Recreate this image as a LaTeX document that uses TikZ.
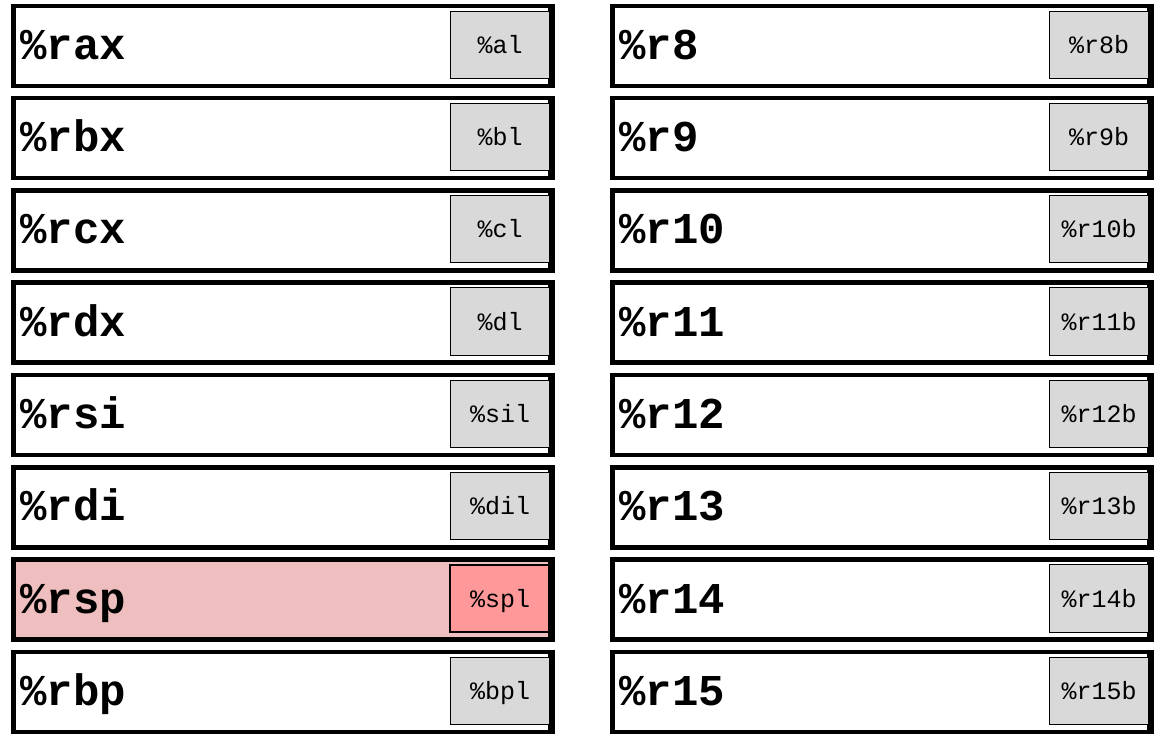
\documentclass[tikz,border=0pt]{standalone}
\usepackage{fontspec}
\setmonofont{Liberation Mono}
\definecolor{regfill}{RGB}{217,217,217}
\definecolor{spouter}{RGB}{239,190,190}
\definecolor{spinner}{RGB}{255,153,153}
\tikzset{
  regbox/.style={draw=black, line width=4.5pt, rectangle, inner sep=0pt, minimum height=80pt, fill=white},
  subbox/.style={draw=black, line width=1pt, rectangle, inner sep=0pt, minimum width=98.5pt, minimum height=67.3pt, fill=regfill},
  bigtxt/.style={anchor=base west, inner sep=0pt, font=\fontsize{44}{44}\selectfont\ttfamily\bfseries},
  smalltxt/.style={anchor=base, inner sep=0pt, font=\fontsize{25}{25}\selectfont\ttfamily}
}
\begin{document}
\begin{tikzpicture}[x=1pt,y=1pt]
\useasboundingbox (0,0) rectangle (1161,-744);
% left column
\foreach \r/\big/\small in {0/rax/al,1/rbx/bl,2/rcx/cl,3/rdx/dl,4/rsi/sil,5/rdi/dil,6/rsp/spl,7/rbp/bpl}{
  \pgfmathsetmacro{\yc}{-(45.75+92.3*\r)}
  \pgfmathsetmacro{\ys}{-(44.7+92.3*\r)}
  \pgfmathsetmacro{\yb}{-(59.3+92.3*\r)}
  \pgfmathsetmacro{\ysb}{-(53.3+92.3*\r)}
  \ifnum\r=6
    \node[regbox, fill=spouter, minimum width=537pt] (L\r) at (281.75,\yc) {};
    \node[subbox, fill=spinner, line width=2pt, minimum height=66.5pt] (LS\r) at (499.5,\ys) {};
  \else
    \node[regbox, minimum width=537pt] (L\r) at (281.75,\yc) {};
    \node[subbox] (LS\r) at (499.75,\ys) {};
  \fi
  \draw[line width=4.5pt] (L\r.north east) -- (L\r.south east);
  \node[bigtxt] (LT\r) at (20,\yb) {\%\big};
  \node[smalltxt] (LST\r) at (500,\ysb) {\%\small};
}
% right column
\foreach \r/\big/\small in {0/r8/r8b,1/r9/r9b,2/r10/r10b,3/r11/r11b,4/r12/r12b,5/r13/r13b,6/r14/r14b,7/r15/r15b}{
  \pgfmathsetmacro{\yc}{-(45.75+92.3*\r)}
  \pgfmathsetmacro{\ys}{-(44.7+92.3*\r)}
  \pgfmathsetmacro{\yb}{-(59.3+92.3*\r)}
  \pgfmathsetmacro{\ysb}{-(53.3+92.3*\r)}
  \node[regbox, minimum width=537.25pt] (R\r) at (880.9,\yc) {};
  \node[subbox] (RS\r) at (1098.75,\ys) {};
  \draw[line width=4.5pt] (R\r.north east) -- (R\r.south east);
  \node[bigtxt] (RT\r) at (619,\yb) {\%\big};
  \node[smalltxt] (RST\r) at (1099,\ysb) {\%\small};
}
\end{tikzpicture}
\end{document}
